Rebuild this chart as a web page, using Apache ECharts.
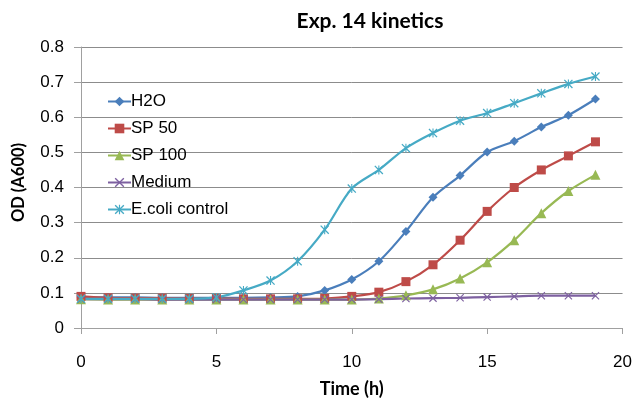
<!DOCTYPE html>
<html><head><meta charset="utf-8">
<script src="https://cdn.jsdelivr.net/npm/echarts@6/dist/echarts.min.js"></script>
<style>html,body{margin:0;padding:0;background:#fff}#c{width:635px;height:403px}</style>
</head><body><div id="c"></div>
<script>
const hours = [0,1,2,3,4,5,6,7,8,9,10,11,12,13,14,15,16,17,18,19];
const h2o   = [0.088,0.087,0.087,0.086,0.086,0.086,0.086,0.087,0.090,0.107,0.138,0.190,0.275,0.372,0.434,0.501,0.532,0.572,0.606,0.652];
const sp50  = [0.090,0.086,0.085,0.085,0.084,0.084,0.083,0.083,0.083,0.084,0.090,0.102,0.132,0.180,0.250,0.332,0.400,0.450,0.490,0.530];
const sp100 = [0.082,0.081,0.081,0.081,0.081,0.081,0.081,0.081,0.081,0.081,0.081,0.084,0.093,0.110,0.141,0.187,0.250,0.327,0.390,0.436];
const medium= [0.082,0.082,0.082,0.081,0.081,0.081,0.081,0.081,0.081,0.081,0.081,0.082,0.084,0.085,0.086,0.088,0.090,0.092,0.092,0.092];
const ecoli = [0.083,0.083,0.083,0.083,0.083,0.087,0.107,0.135,0.190,0.280,0.397,0.450,0.512,0.555,0.590,0.612,0.640,0.668,0.695,0.716];
const yTicks = [0,0.1,0.2,0.3,0.4,0.5,0.6,0.7,0.8];
const xTicks = [0,5,10,15,20];

const X_SYM = 'path://M1,0 L10,9 L9,10 L0,1 Z M9,0 L10,1 L1,10 L0,9 Z';
const STAR_SYM = 'path://M1,0 L10,9 L9,10 L0,1 Z M9,0 L10,1 L1,10 L0,9 Z M4.4,0 L5.6,0 L5.6,10 L4.4,10 Z';

function mk(name, data, color, symbol, size) {
  return {
    name, type: 'line', smooth: 0.3, data: hours.map((h,i)=>[h,data[i]]),
    symbol, symbolSize: size, showSymbol: true,
    itemStyle: {color}, lineStyle: {color, width: 2.2},
    emphasis: {disabled: true}
  };
}
const chart = echarts.init(document.getElementById('c'), null, {renderer:'canvas'});
chart.setOption({
  animation: false,
  backgroundColor: '#fff',
  title: {text: 'Exp. 14 kinetics', left: 365, top: 6, textAlign: 'center',
    textStyle: {fontFamily: 'Lato', fontWeight: 'bold', fontSize: 21, color: '#000'}},
  grid: {left: 81, right: 11, top: 47, bottom: 72},
  legend: {orient: 'vertical', left: 102, top: 88, itemGap: 10, itemWidth: 23, itemHeight: 12,
    textStyle: {fontFamily: 'Liberation Sans', fontSize: 17, lineHeight: 17, color: '#000', padding: [0,0,0,-5]},
    data: ['H2O','SP 50','SP 100','Medium','E.coli control']},
  xAxis: {type: 'value', min: 0, max: 20, interval: 5,
    name: 'Time (h)', nameLocation: 'middle', nameGap: 52,
    nameTextStyle: {fontFamily: 'Lato', fontWeight: 'bold', fontSize: 18, color: '#000'},
    axisLine: {lineStyle: {color: '#a0a0a0', width: 1}},
    axisTick: {show: true, length: 6, inside: false, lineStyle: {color: '#a0a0a0'}},
    axisLabel: {fontFamily: 'Liberation Sans', fontSize: 17, color: '#000', margin: 26,
      formatter: v => xTicks.includes(v) ? String(v) : ''},
    splitLine: {show: false}},
  yAxis: {type: 'value', min: 0, max: 0.8, interval: 0.1,
    name: 'OD (A600)', nameLocation: 'middle', nameGap: 54, nameRotate: 90,
    nameTextStyle: {fontFamily: 'Lato', fontWeight: 'bold', fontSize: 16.5, color: '#000', padding: [0,0,0,10]},
    axisLine: {show: true, lineStyle: {color: '#a0a0a0', width: 1}},
    axisTick: {show: true, length: 7, lineStyle: {color: '#a0a0a0'}},
    axisLabel: {fontFamily: 'Liberation Sans', fontSize: 17, color: '#000', margin: 17,
      formatter: v => { const t = yTicks.find(y => Math.abs(y - v) < 1e-6); return t === undefined ? '' : (t === 0 ? '0' : t.toFixed(1)); }},
    splitLine: {show: true, lineStyle: {color: '#8c8c8c', width: 1}}},
  series: [
    mk('H2O', h2o, '#4A7EBB', 'diamond', 9),
    mk('SP 50', sp50, '#BE4B48', 'rect', 9),
    mk('SP 100', sp100, '#98B954', 'triangle', 10),
    mk('Medium', medium, '#7D60A0', X_SYM, 8),
    mk('E.coli control', ecoli, '#46AAC5', STAR_SYM, 9)
  ]
});
</script></body></html>
